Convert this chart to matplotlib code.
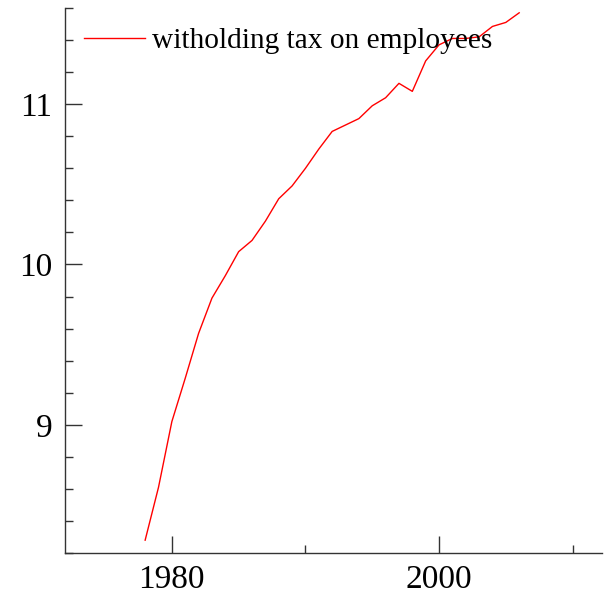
import numpy as np
import matplotlib.pyplot as plt
from matplotlib.ticker import MultipleLocator

years = list(range(1978, 2007))
tax = [8.28, 8.61, 9.02, 9.29, 9.57, 9.79, 9.93, 10.08, 10.15, 10.27,
       10.41, 10.49, 10.60, 10.72, 10.83, 10.87, 10.91, 10.99, 11.04, 11.13,
       11.08, 11.27, 11.37, 11.41, 11.41, 11.42, 11.485, 11.51, 11.57]

plt.rcParams['font.family'] = ['Liberation Serif', 'DejaVu Serif']

fig = plt.figure(figsize=(6.06, 6.0), dpi=100)
ax = fig.add_axes([65 / 606, 47 / 600, 537 / 606, 545 / 600])

ax.plot(years, tax, color='red', linewidth=1.0, label='witholding tax on employees')

ax.set_xlim(1972, 2012.2)
ax.set_ylim(8.2, 11.6)

ax.xaxis.set_major_locator(MultipleLocator(20))
ax.xaxis.set_minor_locator(MultipleLocator(10))
ax.yaxis.set_major_locator(MultipleLocator(1))
ax.yaxis.set_minor_locator(MultipleLocator(0.2))

for s in ['top', 'right']:
    ax.spines[s].set_visible(False)
for s in ['left', 'bottom']:
    ax.spines[s].set_color('#333333')
    ax.spines[s].set_linewidth(1.0)

ax.tick_params(which='major', direction='in', length=12, width=1, color='#333333',
               labelsize=24, pad=9)
ax.tick_params(which='minor', direction='in', length=6, width=1, color='#333333')
ax.tick_params(axis='x', which='major', pad=8)

ax.legend(loc='upper left', bbox_to_anchor=(0.011, 0.989), frameon=False, fontsize=21.2,
          handlelength=2.05, handletextpad=0.27, borderaxespad=0.15, borderpad=0.3)

fig.savefig('out.png', dpi=100)
